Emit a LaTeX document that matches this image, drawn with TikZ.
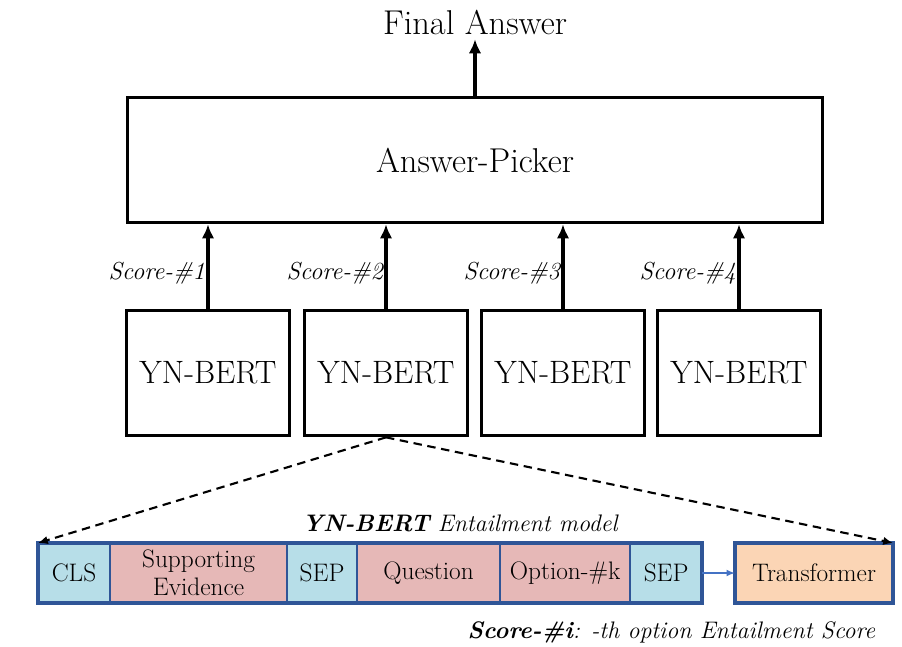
\documentclass[tikz,border=0pt]{standalone}
\usetikzlibrary{positioning,arrows.meta}
\definecolor{tokblue}{RGB}{183,222,232}
\definecolor{tokpink}{RGB}{230,184,183}
\definecolor{tokorange}{RGB}{251,213,181}
\definecolor{tokedge}{RGB}{47,85,151}
\definecolor{linkblue}{RGB}{68,114,196}
\begin{document}
\begin{tikzpicture}[
        x=0.025cm, y=-0.025cm,
        big/.style={font=\fontsize{24.5}{28}\selectfont},
        block/.style={draw, line width=2.6pt, big, minimum height=3.125cm},
        bert/.style={block, minimum width=4.075cm, font=\fontsize{23}{26}\selectfont},
        score/.style={font=\fontsize{17.5}{20}\selectfont\itshape, inner sep=1pt},
        tok/.style={draw=tokedge, line width=1.6pt, fill=#1, outer sep=0pt,
            minimum height=1.5cm, align=center, font=\fontsize{18}{20}\selectfont},
        up/.style={line width=2.3pt, -{Latex[length=10pt,width=9pt]}},
        zoomline/.style={line width=1.5pt, dash pattern=on 6pt off 4pt,
            -{Latex[length=7pt,width=6pt]}}
    ]
    \useasboundingbox (0,0) rectangle (902,646);

    % answer picker and output
    \node[block, minimum width=17.375cm] (picker) at (475,160) {Answer-Picker};
    \node[big] (final) at (475,22) {Final Answer};
    \draw[up] (picker.north) -- (final.south);

    % four yes/no models
    \node[bert] (bert1) at (208,373) {YN-BERT};
    \node[bert] (bert2) at (386,373) {YN-BERT};
    \node[bert] (bert3) at (563,373) {YN-BERT};
    \node[bert] (bert4) at (739,373) {YN-BERT};
    \foreach \i in {1,...,4}
        \draw[up] (bert\i.north) -- (bert\i.north |- picker.south)
            node[pos=0.42, left, score] {Score-\#\i};

    % token sequence
    \node[tok=tokblue, minimum width=1.8cm] (cls) at (74,573) {CLS};
    \node[tok=tokpink, minimum width=4.425cm, right=0pt of cls] (evid)
        {Supporting\\Evidence};
    \node[tok=tokblue, minimum width=1.75cm, right=0pt of evid] (sepa) {SEP};
    \node[tok=tokpink, minimum width=3.575cm, right=0pt of sepa] (quest) {Question};
    \node[tok=tokpink, minimum width=3.25cm, right=0pt of quest] (opt) {Option-\#k};
    \node[tok=tokblue, minimum width=1.8cm, right=0pt of opt] (sepb) {SEP};
    \node[tok=tokorange, minimum width=3.95cm, line width=2.4pt] (trans) at (814,573) {Transformer};
    \draw[tokedge, line width=2.6pt] (cls.north west) rectangle (sepb.south east);
    \draw[linkblue, line width=1.2pt, -{Latex[length=6pt,width=5pt]}] (sepb) -- (trans);

    \node[font=\fontsize{17}{20}\selectfont\itshape] (title) at (460,523)
        {\textbf{YN-BERT} Entailment model};
    \node[font=\fontsize{17}{20}\selectfont\itshape, anchor=east] (note) at (880,632)
        {\textbf{Score-\#i}: -th option Entailment Score};

    % zoom lines
    \draw[zoomline] (bert2.south) -- (cls.north west);
    \draw[zoomline] (bert2.south) -- (trans.north east);
\end{tikzpicture}
\end{document}
